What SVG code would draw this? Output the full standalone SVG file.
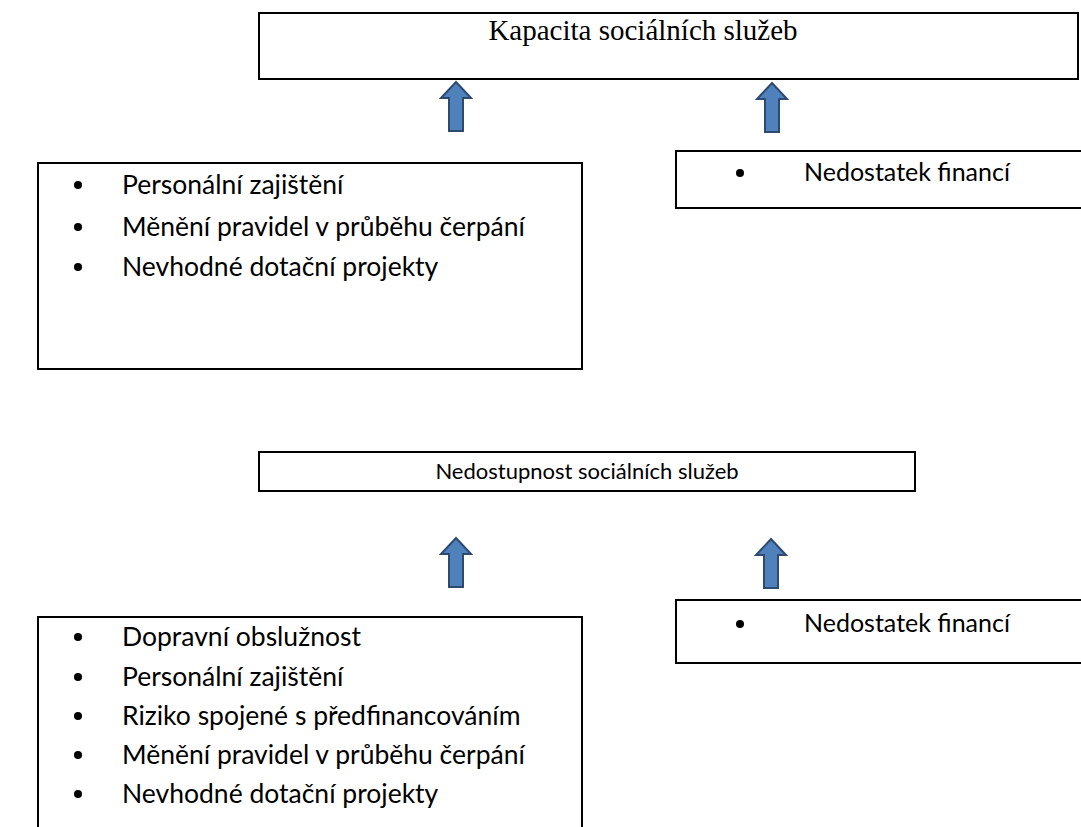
<svg xmlns="http://www.w3.org/2000/svg" width="1081" height="827" viewBox="0 0 1081 827">
<defs>
<style>
.box{fill:#fff;stroke:#000;stroke-width:2}
.t{font-family:Lato,"Open Sans","Liberation Sans",sans-serif;font-size:26.5px;fill:#000}
.r{font-family:Lato,"Open Sans","Liberation Sans",sans-serif;font-size:25px;fill:#000}
.m{font-family:Lato,"Open Sans","Liberation Sans",sans-serif;font-size:22px;fill:#000}
.s{font-family:"Liberation Serif",serif;font-size:29px;fill:#000}
.arr{fill:#4F81BD;stroke:#2E4A70;stroke-width:2;stroke-linejoin:miter}
</style>
<path id="up" d="M0,0 L15,16 L7,16 L7,49 L-7,49 L-7,16 L-15,16 Z"/>
</defs>
<rect width="1081" height="827" fill="#fff"/>
<g id="n1">
<rect class="box" x="259" y="13" width="819" height="66"/>
<text class="s" x="643" y="40" text-anchor="middle">Kapacita sociálních služeb</text>
</g>
<g id="n2">
<rect class="box" x="38" y="163" width="544" height="206"/>
<circle cx="78" cy="185" r="4"/>
<text class="t" x="122" y="194">Personální zajištění</text>
<circle cx="78" cy="227" r="4"/>
<text class="t" x="122" y="236">Měnění pravidel v průběhu čerpání</text>
<circle cx="78" cy="267" r="4"/>
<text class="t" x="122" y="276">Nevhodné dotační projekty</text>
</g>
<g id="n3">
<rect class="box" x="676" y="151" width="410" height="57"/>
<circle cx="740" cy="173" r="4"/>
<text class="r" x="804" y="181">Nedostatek financí</text>
</g>
<g id="n4">
<rect class="box" x="259" y="452" width="656" height="39"/>
<text class="m" x="587" y="479" text-anchor="middle">Nedostupnost sociálních služeb</text>
</g>
<g id="n5">
<rect class="box" x="676" y="600" width="410" height="63"/>
<circle cx="740" cy="624" r="4"/>
<text class="r" x="804" y="632">Nedostatek financí</text>
</g>
<g id="n6">
<path d="M38,830 L38,617 L582,617 L582,830" fill="#fff" stroke="#000" stroke-width="2"/>
<circle cx="78" cy="637" r="4"/>
<text class="t" x="122" y="646">Dopravní obslužnost</text>
<circle cx="78" cy="677" r="4"/>
<text class="t" x="122" y="686">Personální zajištění</text>
<circle cx="78" cy="716" r="4"/>
<text class="t" x="122" y="725">Riziko spojené s předfinancováním</text>
<circle cx="78" cy="755" r="4"/>
<text class="t" x="122" y="764">Měnění pravidel v průběhu čerpání</text>
<circle cx="78" cy="794" r="4"/>
<text class="t" x="122" y="803">Nevhodné dotační projekty</text>
</g>
<g id="connectors">
<use href="#up" class="arr" x="456" y="82"/>
<use href="#up" class="arr" x="772" y="83"/>
<use href="#up" class="arr" x="456" y="538"/>
<use href="#up" class="arr" x="771" y="539"/>
</g>
</svg>
